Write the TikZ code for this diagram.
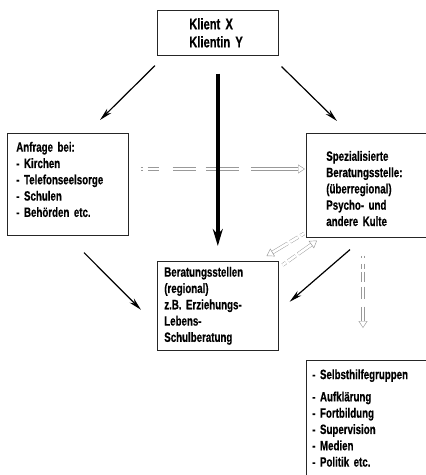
\documentclass[tikz,border=0pt]{standalone}
\usepackage{fontspec}
\setmainfont{Liberation Sans}[FakeStretch=0.72,BoldFeatures={FakeBold=0.5}]
\usetikzlibrary{arrows.meta}
\tikzstyle{every node}=[draw=black!85,line width=0.6pt,anchor=north west,align=left,inner ysep=0pt,font=\bfseries\fontsize{13.5}{16.3}\selectfont]
\tikzstyle{arr}=[draw=black,line width=1.2pt,-{Stealth[length=13pt,width=6pt]}]
\tikzstyle{hollow}=[draw=black!40,line width=0.45pt,double=white,double distance=2.6pt,-{Triangle[open,length=7pt,width=9pt]}]

\begin{document}
\begin{tikzpicture}[x=1pt,y=-1pt]
	\useasboundingbox (0,0) rectangle (426,475);
	\node (klient) at (157,10) [minimum width=121,minimum height=45,text width=57,inner xsep=32,font=\bfseries\fontsize{15.5}{18}\selectfont] {Klient X\\Klientin Y};
	\node (anfrage) at (7,133) [minimum width=121,minimum height=102,text width=103,inner xsep=9,text depth=75] {Anfrage bei:\\- Kirchen\\- Telefonseelsorge\\- Schulen\\- Behörden etc.};
	\node (spezial) at (306,133) [minimum width=136,minimum height=104,text width=96,inner xsep=20,text height=16,text depth=65] {Spezialisierte\\Beratungsstelle:\\(überregional)\\Psycho- und\\andere Kulte};
	\node (beratung) at (157,261) [minimum width=121,minimum height=89,text width=107,inner xsep=7] {Beratungsstellen\\(regional)\\z.B. Erziehungs-\\Lebens-\\Schulberatung};
	\node (hilfe) at (306,360) [minimum width=136,text width=124,inner xsep=6,inner ysep=9,text depth=105] {- Selbsthilfegruppen\\[6pt]- Aufklärung\\- Fortbildung\\- Supervision\\- Medien\\- Politik etc.};
	% hollow dashed arrows
	\draw[hollow,dash pattern=on 2pt off 5pt on 11pt off 14pt on 23pt off 10pt on 33pt off 12pt on 80pt] ([shift={(12,36)}]anfrage.north east) -- ([shift={(-1,36)}]spezial.north west);
	\draw[hollow,dash pattern=on 4pt off 3pt on 9pt off 3pt on 40pt] ([shift={(-2,-4)}]spezial.south west) -- ([shift={(-12,-5)}]beratung.north east);
	\draw[hollow,dash pattern=on 4pt off 3pt on 9pt off 3pt on 40pt] ([shift={(4,4)}]beratung.north east) -- ([shift={(11,3)}]spezial.south west);
	\draw[hollow,dash pattern=on 2pt off 6pt on 5pt off 3pt on 10pt off 5pt on 12pt off 8pt on 40pt] ([shift={(57,18)}]spezial.south west) -- ([shift={(57,-32)}]hilfe.north west);
	% solid arrows
	\draw[arr] ([shift={(-2,10)}]klient.south west) -- ([shift={(93,-13)}]anfrage.north west);
	\draw[arr] ([shift={(3,11)}]klient.south east) -- ([shift={(31,-12)}]spezial.north west);
	\draw[line width=4.5pt,-{Stealth[length=17pt,width=10pt]}] ([shift={(0,18)}]klient.south) -- ([shift={(0,-15)}]beratung.north);
	\draw[arr] ([shift={(77,17)}]anfrage.south west) -- ([shift={(-16,4)}]beratung.west);
	\draw[arr] ([shift={(44,12)}]spezial.south west) -- ([shift={(11,-4)}]beratung.east);
\end{tikzpicture}
\end{document}
